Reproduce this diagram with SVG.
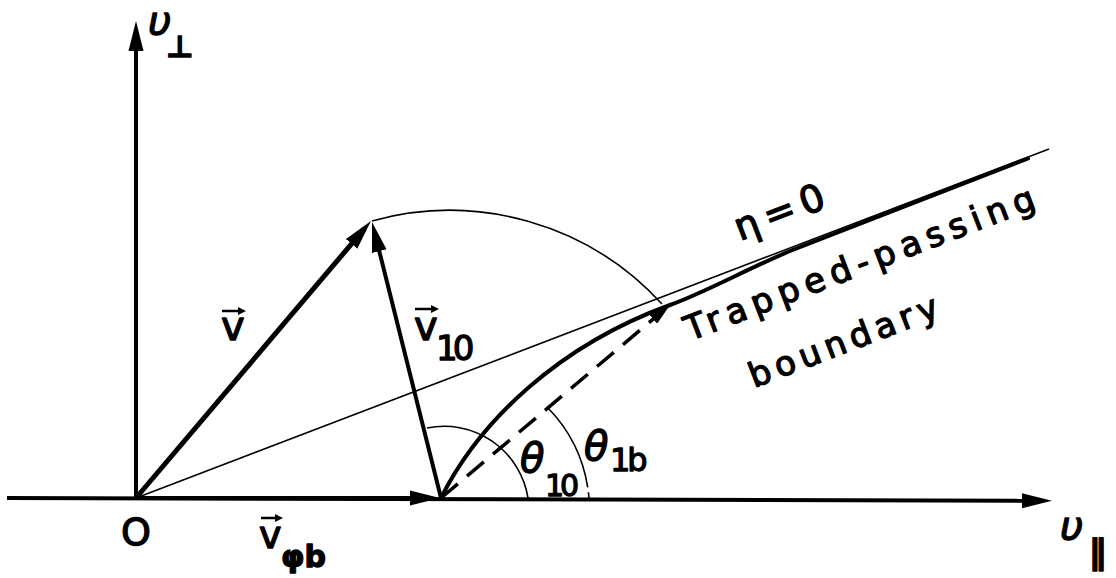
<svg xmlns="http://www.w3.org/2000/svg" width="1116" height="578" viewBox="0 0 1116 578">
<style>
.ax{stroke:#000;stroke-width:4;fill:none}
.vec{stroke:#000;stroke-width:5;fill:none}
.thin{stroke:#000;stroke-width:1.6;fill:none}
.thick{stroke:#000;stroke-width:4;fill:none;stroke-linecap:round;stroke-linejoin:round}
.dash{stroke:#000;stroke-width:3.5;fill:none;stroke-dasharray:22 12}
.t{font-family:"DejaVu Sans",sans-serif;fill:#000;stroke:#000;stroke-width:1.3;stroke-linejoin:round}
.it{font-style:italic}
.ovr{stroke:#000;stroke-width:2.5;fill:none}
</style>
<defs>
<marker id="ah" markerUnits="userSpaceOnUse" viewBox="0 0 30 16" markerWidth="30" markerHeight="16" refX="20" refY="8" orient="auto">
<path d="M0,0.5 L30,8 L0,15.5 Z" fill="#000"/>
</marker>
<marker id="ahs" markerUnits="userSpaceOnUse" viewBox="0 0 22 12" markerWidth="22" markerHeight="12" refX="12" refY="6" orient="auto">
<path d="M0,0 L22,6 L0,12 Z" fill="#000"/>
</marker>
<marker id="oh" markerUnits="userSpaceOnUse" viewBox="0 0 8 8" markerWidth="8" markerHeight="8" refX="4" refY="4" orient="auto">
<path d="M0,0 L8,4 L0,8 Z" fill="#000"/>
</marker>
</defs>
<g id="connectors">
<line id="axis-perp" class="ax" x1="136" y1="498" x2="136" y2="31" marker-end="url(#ah)"/>
<line id="axis-par" class="ax" x1="7" y1="498" x2="1042" y2="500.7" marker-end="url(#ah)"/>
<line id="vec-phib" class="ax" x1="136" y1="498" x2="430" y2="498" marker-end="url(#ah)"/>
<line id="vec-v" class="vec" x1="136" y1="498" x2="364.5" y2="228.6" marker-end="url(#ah)"/>
<line id="vec-v10" class="ax" x1="441" y1="498" x2="374.4" y2="231.7" marker-end="url(#ah)"/>
<path id="arc-v" class="thin" d="M372,221 A288,288 0 0 1 662,304"/>
<line id="eta0" class="thin" x1="136" y1="498" x2="1049" y2="149"/>
<path id="boundary" class="thick" d="M441,498 C480,420 560,345 670,305 C705,292.3 745,270 790,251 L1028,158.5"/>
<line id="dashed" class="dash" x1="441" y1="498" x2="662.4" y2="311.4" marker-end="url(#ahs)"/>
<path id="arc-theta10" class="thin" d="M427,428 A85,85 0 0 1 528,498"/>
<path id="arc-theta1b" class="thin" stroke-dasharray="90 5 200" d="M548,408 A146,146 0 0 1 589,498"/>
</g>
<g id="label-vperp">
<text class="t it" x="148" y="35" font-size="40">υ</text>
<text class="t" x="166" y="57" font-size="30" font-weight="bold">⊥</text>
</g>
<g id="label-vpar">
<text class="t it" x="1060" y="540" font-size="40">υ</text>
<text class="t" x="1089" y="564" font-size="34" font-weight="bold">∥</text>
</g>
<g id="label-O">
<text class="t" x="136" y="545" font-size="38" text-anchor="middle">O</text>
</g>
<g id="label-v">
<text class="t" x="221" y="340" font-size="40">v</text>
<line class="ovr" x1="222" y1="311" x2="242" y2="311" marker-end="url(#oh)"/>
</g>
<g id="label-v10">
<text class="t" x="414" y="340" font-size="40">v</text>
<line class="ovr" x1="415" y1="309" x2="435" y2="309" marker-end="url(#oh)"/>
<text class="t" x="436" y="360" font-size="34" letter-spacing="-5">10</text>
</g>
<g id="label-vphib">
<text class="t" x="259" y="548" font-size="38">v</text>
<line class="ovr" x1="261" y1="518" x2="279" y2="518" marker-end="url(#oh)"/>
<text class="t" x="281" y="567" font-size="30" font-weight="bold">φb</text>
</g>
<g id="label-theta10">
<text class="t it" x="520" y="472" font-size="40">θ</text>
<text class="t" x="545" y="496" font-size="30" letter-spacing="-4">10</text>
</g>
<g id="label-theta1b">
<text class="t it" x="584" y="460" font-size="40">θ</text>
<text class="t" x="610" y="471" font-size="32" letter-spacing="-3">1b</text>
</g>
<g id="label-eta">
<text class="t" x="740" y="241" font-size="38" letter-spacing="7" transform="rotate(-21 740 241)">η=0</text>
</g>
<g id="label-boundary">
<text class="t" x="690" y="341" font-size="34" textLength="372" transform="rotate(-21 690 341)">Trapped-passing</text>
<text class="t" x="754" y="388" font-size="34" textLength="200" transform="rotate(-21 754 388)">boundary</text>
</g>
</svg>
